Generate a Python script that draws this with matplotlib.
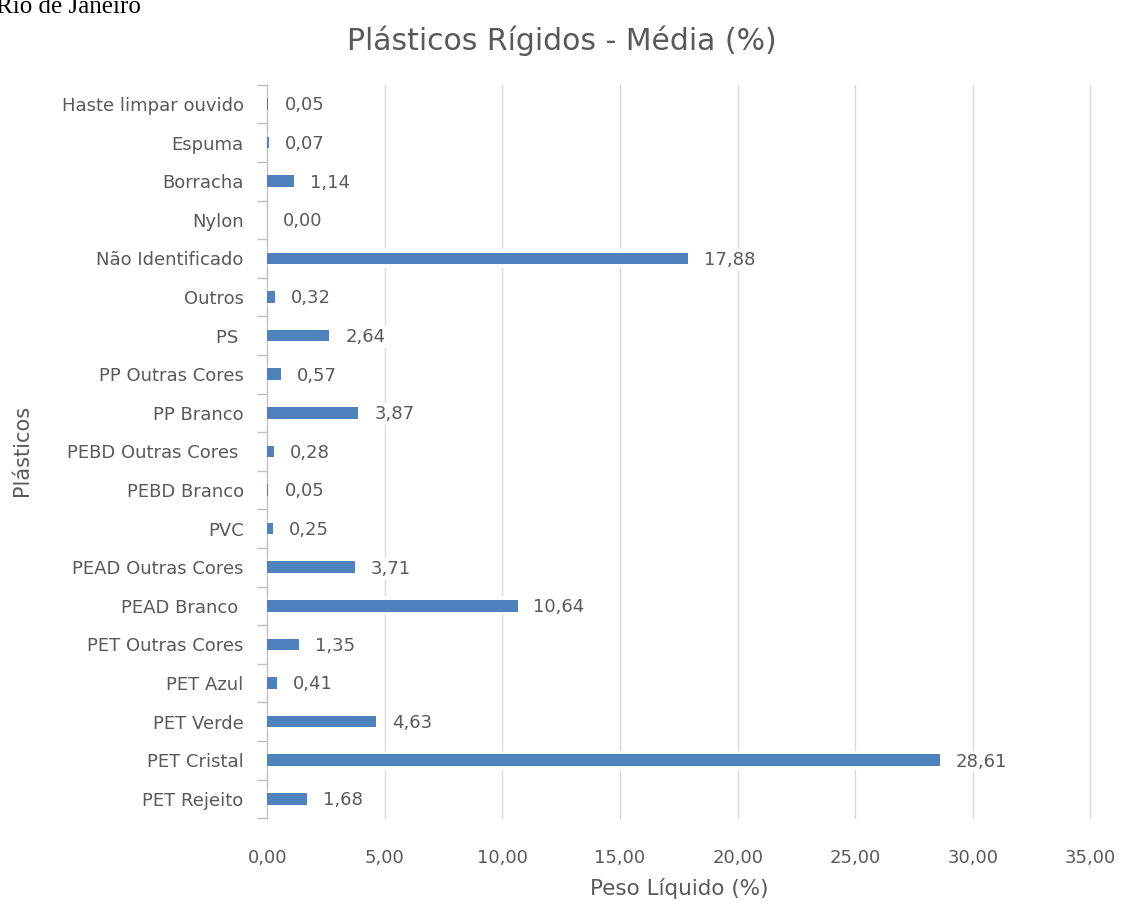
import matplotlib.pyplot as plt
from matplotlib.ticker import FixedLocator

# categories bottom to top, as in the chart
categorias = ['PET Rejeito', 'PET Cristal', 'PET Verde', 'PET Azul', 'PET Outras Cores',
              'PEAD Branco ', 'PEAD Outras Cores', 'PVC', 'PEBD Branco', 'PEBD Outras Cores ',
              'PP Branco', 'PP Outras Cores', 'PS ', 'Outros', 'Não Identificado',
              'Nylon', 'Borracha', 'Espuma', 'Haste limpar ouvido']
media = [1.68, 28.61, 4.63, 0.41, 1.35, 10.64, 3.71, 0.25, 0.05, 0.28,
         3.87, 0.57, 2.64, 0.32, 17.88, 0.00, 1.14, 0.07, 0.05]
xticks = [0, 5, 10, 15, 20, 25, 30, 35]

txt = '#595959'
plt.rcParams['font.family'] = ['DejaVu Sans']

fig = plt.figure(figsize=(11.23, 9.02), dpi=100)
ax = fig.add_axes([0.238, 0.093, 0.733, 0.813])

pos = list(range(len(categorias)))
# white halo behind the bars (excel draws the bars over the grid with a gap)
ax.barh(pos, media, height=0.5, color='white', zorder=2)
ax.barh(pos, media, height=0.3, color='#4F81BD', zorder=3)

for y, v in zip(pos, media):
    ax.annotate(f'{v:.2f}'.replace('.', ','), (v, y), xytext=(11.5, -1),
                textcoords='offset points', va='center', ha='left',
                fontsize=13, color=txt, zorder=4,
                bbox=dict(boxstyle='square,pad=0.1', fc='white', ec='none'))

ax.set_xlim(0, 35)
ax.set_ylim(-0.5, len(categorias) - 0.5)
ax.set_xticks(xticks)
ax.set_xticklabels([f'{t:.2f}'.replace('.', ',') for t in xticks])
ax.set_yticks(pos)
ax.set_yticklabels(categorias)
ax.yaxis.set_minor_locator(FixedLocator([p - 0.5 for p in pos] + [len(pos) - 0.5]))
ax.tick_params(axis='y', which='major', length=0, pad=17, labelsize=13, labelcolor=txt)
ax.tick_params(axis='y', which='minor', length=7, color='#BFBFBF', width=1)
ax.tick_params(axis='x', length=0, pad=22, labelsize=13, labelcolor=txt)

ax.grid(axis='x', color='#D9D9D9', linewidth=1, zorder=0)
for gl in ax.get_xgridlines():
    gl.set_clip_on(False)
for s in ['top', 'right', 'bottom']:
    ax.spines[s].set_visible(False)
ax.spines['left'].set_color('#BFBFBF')

ax.set_xlabel('Peso Líquido (%)', fontsize=15.5, color=txt, labelpad=8)
fig.text(0.02, 0.501, 'Plásticos', rotation=90, fontsize=15, color=txt,
         ha='center', va='center')
fig.text(0.5, 0.955, 'Plásticos Rígidos - Média (%)', fontsize=21.5, color=txt,
         ha='center', va='center')
fig.text(-0.004, 1.004, 'Rio de Janeiro', fontsize=18, family='Liberation Serif',
         color='black', ha='left', va='top')

fig.savefig('out.png', dpi=100)
